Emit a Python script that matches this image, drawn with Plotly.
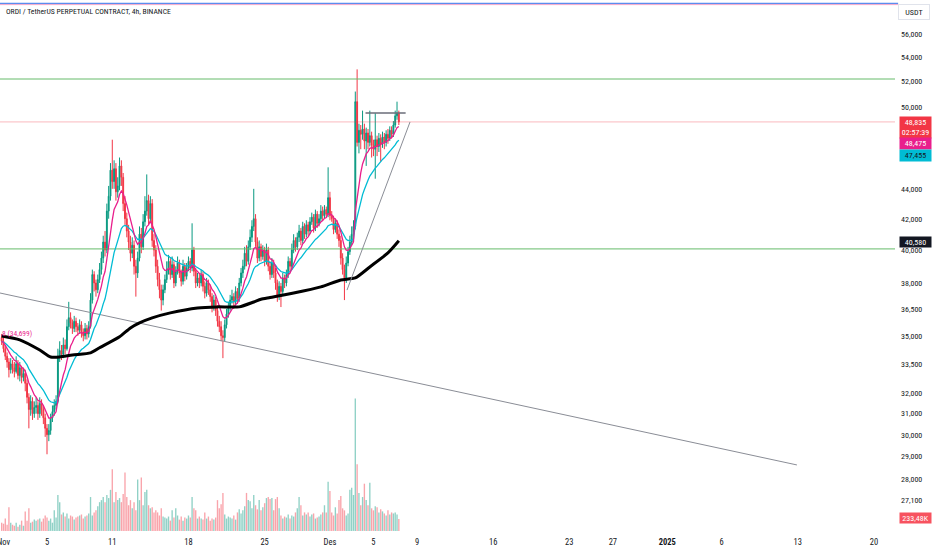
import pandas as pd
import plotly.graph_objects as go

TITLE = "ORDI / TetherUS PERPETUAL CONTRACT, 4h, BINANCE"
CANDLE_START = "2024-10-31 20:00"
FIRST_OPEN = 34900

closes = [
    34700,
    34300, 33900, 33600, 33200, 33500, 33300,
    33100, 33500, 32900, 33300, 32800, 33000,
    32500, 31800, 31200, 31600, 31000, 31300,
    31400, 31000, 31500, 31200, 30800, 30300,
    30000, 30200, 30800, 31100, 31400, 31600,
    33900, 34200, 34000, 34500, 34300, 35500,
    36000, 35700, 35400, 35800, 35500, 35300,
    35600, 35200, 35000, 35400, 35100, 35500,
    37000, 38500, 38000, 37600, 38200, 38800,
    39500, 40500, 40000, 42500, 43500, 45300,
    44500, 45400, 43800, 44200, 45600, 44800,
    43000, 42000, 41200, 40500, 39800, 40300,
    39000, 38600, 39500, 41000, 40200, 41800,
    42500, 43200, 42000, 43000, 40600, 40000,
    39000, 38200, 37600, 37000, 37600, 38200,
    38800, 39300, 38500, 39100, 38000, 38700,
    39200, 38600, 38100, 39000, 38400, 38900,
    39300, 38900, 40000, 38700, 38000, 38300,
    38000, 38500, 37800, 37400, 38000, 37600,
    37200, 36600, 37000, 36400, 35800, 35500,
    35000, 34900, 35600, 36200, 36600, 37000,
    37200, 36900, 37500, 37100, 38000, 38600,
    39000, 39800, 39300, 40200, 40800, 41500,
    42000, 40500, 39500, 40200, 39600, 40000,
    39300, 40000, 39000, 38500, 39200, 38600,
    38000, 37300, 37800, 37500, 38300, 38000,
    38500, 39300, 39000, 40000, 40600, 40200,
    40800, 41200, 40600, 41500, 41000, 41600,
    41200, 41800, 42100, 41400, 42300, 41700,
    42000, 42500, 42200, 42600, 42300, 43400,
    42200, 42000, 41300, 41700, 41000, 40600,
    39500, 38800, 38300, 39200, 39900, 40500,
    41000, 41500, 50400, 47300, 48200, 47900,
    48300, 47400, 48000, 47300, 47800, 47100,
    46800, 47500, 47000, 47600, 47200, 47700,
    47300, 47900, 47600, 48200, 47900, 48600,
    49300, 49500, 48835,
]

highs = [
    35100,
    34900, 34500, 34100, 33800, 33800, 33700,
    33600, 33900, 33700, 33600, 33400, 33300,
    33200, 32700, 32000, 31900, 31800, 31600,
    31800, 31600, 31800, 31700, 31400, 31000,
    30500, 30500, 31000, 31400, 31700, 31900,
    34300, 34700, 34500, 34900, 34800, 35900,
    36900, 36300, 35900, 36100, 36000, 35700,
    35900, 35800, 35400, 35700, 35600, 35800,
    37400, 38800, 38700, 38200, 38500, 39200,
    39900, 40900, 41200, 43000, 44200, 45800,
    47500, 46000, 45800, 44800, 46200, 46000,
    45100, 43500, 42400, 41600, 40900, 40800,
    40600, 39400, 39900, 41500, 41400, 42300,
    43500, 45000, 43600, 43500, 43300, 41000,
    40300, 39400, 38600, 37900, 37900, 38500,
    39300, 39700, 39500, 39600, 39300, 39000,
    39600, 39400, 38800, 39400, 39200, 39200,
    39600, 39500, 41700, 40200, 38900, 38600,
    38600, 38800, 38700, 38100, 38300, 38200,
    37900, 37400, 37300, 37200, 36700, 36100,
    35800, 35300, 35900, 36500, 36900, 37300,
    37600, 37400, 37800, 37700, 38300, 38900,
    39400, 40200, 40300, 40600, 41300, 41900,
    44000, 42300, 40800, 40600, 40400, 40300,
    40200, 40400, 40200, 39300, 39500, 39400,
    38900, 38200, 38100, 38000, 38600, 38500,
    38800, 39600, 39500, 40400, 41000, 40800,
    41100, 41600, 41400, 41800, 41700, 41900,
    41800, 42100, 42400, 42300, 42600, 42500,
    42300, 42900, 42800, 42900, 42800, 45500,
    43800, 42500, 42200, 42000, 41900, 41300,
    40900, 39800, 39100, 39600, 40200, 40900,
    41500, 41900, 51200, 53000, 48700, 48600,
    49700, 48700, 48400, 48300, 49700, 48100,
    47500, 49500, 47800, 48000, 47900, 48100,
    48000, 48200, 48300, 48500, 48500, 48900,
    49700, 50400, 49700,
]

lows = [
    34500,
    34100, 33700, 33300, 32800, 33000, 33000,
    32800, 33000, 32700, 32600, 32500, 32600,
    32100, 31500, 30300, 30900, 30700, 30800,
    31000, 30700, 30800, 30900, 30500, 29900,
    29100, 29700, 30000, 30600, 30900, 31200,
    31500, 33600, 33700, 33800, 34000, 34200,
    35300, 35400, 35100, 35200, 35200, 35000,
    35100, 34900, 34700, 34800, 34800, 34900,
    35400, 36800, 37500, 37200, 37400, 38000,
    38500, 39200, 39600, 39800, 42000, 43200,
    44000, 44000, 43200, 43400, 43900, 44200,
    42500, 41600, 40800, 40000, 39300, 39500,
    38500, 37200, 38300, 39300, 39800, 40000,
    41500, 42200, 41600, 41700, 40200, 39600,
    38600, 37800, 37100, 36400, 36700, 37400,
    38000, 38500, 38200, 38300, 37700, 37800,
    38500, 38300, 37800, 37900, 38100, 38200,
    38700, 38600, 38700, 38400, 37700, 37800,
    37700, 37800, 37500, 37100, 37200, 37300,
    36900, 36300, 36400, 36100, 35500, 35200,
    34700, 33800, 34700, 35400, 36000, 36400,
    36800, 36500, 36700, 36800, 36900, 37800,
    38300, 38800, 39000, 39100, 40000, 40500,
    41200, 40200, 39200, 39300, 39300, 39400,
    39000, 39100, 38700, 38200, 38300, 38300,
    37600, 36900, 37000, 36600, 37300, 37700,
    37800, 38300, 38700, 38800, 39800, 39900,
    40000, 40500, 40300, 40400, 40700, 40800,
    40900, 41000, 41600, 41100, 41200, 41400,
    41500, 41800, 41900, 42000, 42100, 42100,
    41900, 41800, 41000, 41100, 40700, 40200,
    39100, 38500, 37000, 38000, 39000, 39700,
    40300, 40700, 41300, 47000, 46500, 46800,
    47500, 46800, 45600, 46800, 47000, 46200,
    46300, 44700, 46300, 46600, 45900, 46900,
    46800, 47000, 47200, 47400, 47600, 47700,
    48400, 49000, 48600,
]

volumes_k = [
    160,
    140, 240, 120, 460, 160, 120,
    100, 160, 80, 120, 200, 100,
    380, 200, 440, 160, 180, 220,
    200, 220, 240, 180, 240, 300,
    260, 200, 240, 160, 400, 260,
    700, 560, 320, 360, 280, 340,
    240, 300, 280, 220, 260, 280,
    300, 320, 240, 280, 300, 340,
    660, 300, 360, 400, 480, 560,
    600, 660, 560, 700, 640, 800,
    1200, 560, 760, 600, 640, 560,
    720, 1140, 660, 500, 600, 440,
    560, 400, 1000, 600, 1040, 500,
    760, 800, 500, 440, 460, 360,
    400, 360, 300, 440, 280, 260,
    240, 280, 200, 400, 260, 440,
    300, 220, 280, 200, 260, 240,
    300, 260, 660, 440, 400, 240,
    280, 240, 220, 360, 240, 280,
    200, 240, 220, 260, 600, 440,
    520, 740, 320, 240, 280, 260,
    240, 300, 220, 360, 420, 340,
    400, 480, 740, 600, 580, 440,
    700, 500, 420, 600, 400, 460,
    540, 640, 660, 620, 640, 400,
    620, 660, 440, 300, 240, 280,
    260, 320, 240, 300, 280, 360,
    440, 660, 500, 300, 360, 320,
    360, 280, 320, 340, 240, 260,
    280, 320, 360, 500, 360, 960,
    780, 360, 300, 460, 340, 600,
    680, 440, 400, 300, 340, 800,
    840, 700, 2580, 1300, 740, 500,
    660, 920, 600, 500, 940, 440,
    400, 480, 460, 360, 420, 380,
    340, 300, 400, 320, 360, 340,
    360, 320, 233.48,
]

ma_long_idx = [0, 10, 21, 27, 32, 39, 49, 54, 65, 71, 76, 83, 93, 108, 119, 131,
               139, 143, 148, 161, 176, 187, 195, 203, 213, 219]
ma_long_val = [34990, 34780, 34230, 33860, 33860, 33970, 34080, 34350, 34940, 35430,
               35710, 35990, 36270, 36550, 36610, 36610, 36890, 37050, 37150, 37410,
               37770, 38180, 38300, 38960, 39820, 40580]

EMA_FAST, EMA_SLOW = 9, 21

level_lines = [52210, 40070]
trend_long_x = ["2024-10-31 16:20", "2025-01-12 22:00"]
trend_long_y = [37410, 28620]
trend_up_x = ["2024-12-02 13:40", "2024-12-08 08:40"]
trend_up_y = [37580, 48830]
range_top_x = ["2024-12-04 06:30", "2024-12-07 23:00"]
range_top_y = [49510, 49510]

price_ticks = [27100, 28000, 29000, 30000, 31000, 32000, 33500, 35000, 36500,
               38000, 40000, 42000, 44000, 50000, 52000, 54000, 56000]
date_ticks = ["2024-11-01", "2024-11-05", "2024-11-11", "2024-11-18", "2024-11-25",
              "2024-12-01", "2024-12-05", "2024-12-09", "2024-12-16", "2024-12-23",
              "2024-12-27", "2025-01-01", "2025-01-06", "2025-01-13", "2025-01-20"]
date_tick_text = ["Nov", "5", "11", "18", "25", "Des", "5", "9", "16", "23", "27",
                  "<b>2025</b>", "6", "13", "20"]

X_RANGE = ["2024-10-31 16:20", "2025-01-21 22:20"]
Y_LOG_RANGE = [4.40928, 4.76782]

label_last = "48,835<br>02:57:39"
label_fast = "48,475"
label_slow = "47,455"
label_long = "40,580"
label_vol = "233,48K"
label_left = "8 (34,699)"

# ---------------------------------------------------------------
FONT = "Roboto Condensed, DejaVu Sans Condensed, sans-serif"
UP, DOWN = "#089981", "#f23645"
PINK, CYAN = "#e91e8c", "#00bcd4"

times = pd.date_range(CANDLE_START, periods=len(closes), freq="4h")
opens = [FIRST_OPEN] + closes[:-1]
close_s = pd.Series(closes, dtype=float)
ema_fast = close_s.ewm(span=EMA_FAST, adjust=False).mean()
ema_slow = close_s.ewm(span=EMA_SLOW, adjust=False).mean()
vol_colors = ["rgba(8,153,129,0.45)" if c >= o else "rgba(242,54,69,0.45)"
              for o, c in zip(opens, closes)]

fig = go.Figure()

fig.add_trace(go.Bar(x=times, y=volumes_k, marker_color=vol_colors,
                     marker_line_width=0, yaxis="y2", hoverinfo="skip"))

for lv in level_lines:
    fig.add_trace(go.Scatter(x=X_RANGE, y=[lv, lv], mode="lines",
                             line=dict(color="#66bb6a", width=1), hoverinfo="skip"))
fig.add_trace(go.Scatter(x=X_RANGE, y=[closes[-1], closes[-1]], mode="lines",
                         line=dict(color="rgba(242,54,69,0.35)", width=1), hoverinfo="skip"))
fig.add_trace(go.Scatter(x=trend_long_x, y=trend_long_y, mode="lines",
                         line=dict(color="#8a8d96", width=1), hoverinfo="skip"))

fig.add_trace(go.Candlestick(
    x=times, open=opens, high=highs, low=lows, close=closes,
    increasing=dict(line=dict(color=UP, width=1), fillcolor=UP),
    decreasing=dict(line=dict(color=DOWN, width=1), fillcolor=DOWN),
    hoverinfo="skip", whiskerwidth=0))

fig.add_trace(go.Scatter(x=times, y=ema_slow, mode="lines",
                         line=dict(color=CYAN, width=1.3), hoverinfo="skip"))
fig.add_trace(go.Scatter(x=times, y=ema_fast, mode="lines",
                         line=dict(color=PINK, width=1.3), hoverinfo="skip"))
fig.add_trace(go.Scatter(x=[times[i] for i in ma_long_idx], y=ma_long_val, mode="lines",
                         line=dict(color="#000000", width=3, shape="spline", smoothing=0.6),
                         hoverinfo="skip"))
fig.add_trace(go.Scatter(x=trend_up_x, y=trend_up_y, mode="lines",
                         line=dict(color="#8a8d96", width=1), hoverinfo="skip"))
fig.add_trace(go.Scatter(x=range_top_x, y=range_top_y, mode="lines",
                         line=dict(color="#6a6d78", width=1.5), hoverinfo="skip"))

def pad_y(py):
    return (535 - py) / 530

annotations = [
    dict(text=TITLE, x=0.0045, y=pad_y(12), xref="paper", yref="paper",
         xanchor="left", yanchor="middle", showarrow=False,
         font=dict(family=FONT, size=7.7, color="#131722")),
    dict(text=label_left, x=0, y=pad_y(333), xref="paper", yref="paper",
         xanchor="left", yanchor="middle", showarrow=False, bgcolor="rgba(255,255,255,0)",
         font=dict(family=FONT, size=7.5, color=PINK)),
    dict(text="USDT", x=1.003, y=pad_y(12), xref="paper", yref="paper",
         xanchor="left", yanchor="middle", showarrow=False, width=28, height=12,
         bordercolor="#e0e3eb", borderwidth=1, bgcolor="#ffffff",
         font=dict(family=FONT, size=8, color="#131722")),
]
for txt, py, h, bg, fc in [
    (label_last, 127.5, 19, "#f23645", "#ffffff"),
    (label_fast, 143, 9, "#e91e8c", "#ffffff"),
    (label_slow, 155.5, 9, "#00bcd4", "#131722"),
    (label_long, 242, 8, "#131722", "#ffffff"),
    (label_vol, 518, 8, "#f7525f", "#ffffff"),
]:
    annotations.append(dict(text=txt, x=1.004, y=pad_y(py), xref="paper", yref="paper",
                            xanchor="left", yanchor="middle", showarrow=False,
                            width=29, height=h, bgcolor=bg, borderpad=1,
                            font=dict(family=FONT, size=8, color=fc)))

fig.update_layout(
    width=932, height=550,
    margin=dict(l=0, r=37, t=5, b=15),
    paper_bgcolor="#ffffff", plot_bgcolor="#ffffff",
    showlegend=False, hovermode=False, bargap=0.25,
    font=dict(family=FONT, size=8.5, color="#131722"),
    xaxis=dict(type="date", range=X_RANGE, tickvals=date_ticks, ticktext=date_tick_text,
               showgrid=False, zeroline=False, showline=False, ticks="", automargin=False,
               ticklabeloverflow="allow", rangeslider=dict(visible=False),
               tickfont=dict(family=FONT, size=8.5, color="#131722")),
    yaxis=dict(type="log", range=Y_LOG_RANGE, side="right", tickvals=price_ticks,
               ticktext=[f"{v:,}" for v in price_ticks], showgrid=False, automargin=False,
               zeroline=False, showline=False, ticks="", ticklabelstandoff=5,
               tickfont=dict(family=FONT, size=8, color="#131722")),
    yaxis2=dict(overlaying="y", range=[-80, 10250], visible=False, showgrid=False),
    annotations=annotations,
    shapes=[
        dict(type="line", xref="paper", yref="paper", x0=0, x1=1.0035,
             y0=pad_y(3.3), y1=pad_y(3.3), line=dict(color="#5b8def", width=1.2)),
        dict(type="line", xref="paper", yref="paper", x0=0, x1=1.0035,
             y0=pad_y(4.6), y1=pad_y(4.6), line=dict(color="#f3a6c8", width=1)),
    ],
)

fig.write_html("out.html", config={"displayModeBar": False},
               post_script="document.body.style.margin='0';document.body.style.overflow='hidden';")
